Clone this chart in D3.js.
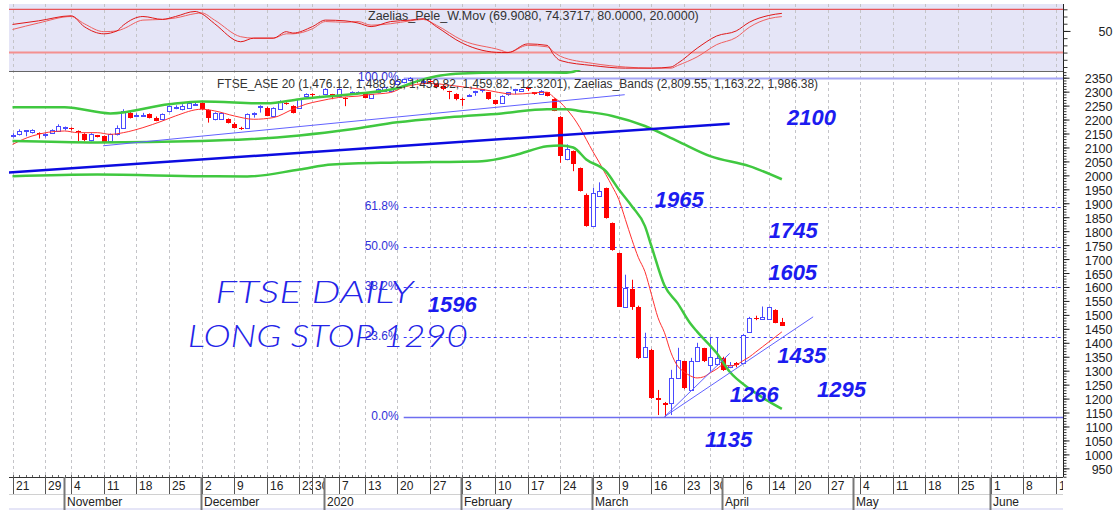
<!DOCTYPE html>
<html>
<head>
<meta charset="utf-8">
<title>FTSE ASE 20 daily</title>
<script src="https://cdn.jsdelivr.net/npm/d3@7"></script>
<style>
  body { margin: 0; background: #ffffff; }
  svg { display: block; font-family: "Liberation Sans", Arial, sans-serif; }
</style>
</head>
<body>
<div id="chart"></div>
<script>
// FTSE_ASE 20 daily candles, one entry per trading day, index 0 = 21 Oct 2019, last = 16 Apr 2020
var open = [2140,2147,2159,2154,2152,2147,2152,2159,2171,2171,
  2159,2149,2125,2143,2141,2123,2147,2171,2225,2212,
  2215,2219,2207,2201,2231,2240,2237,2243,2253,2261,
  2233,2201,2201,2201,2185,2171,2171,2220,2244,2243,
  2212,2237,2261,2249,2243,2285,2293,2282,2291,2291,
  2285,2279,2294,2294,2297,2279,2297,2302,2302,2327,
  2334,2341,2338,2334,2338,2327,2320,2302,2291,2273,
  2285,2298,2305,2297,2269,2261,2292,2305,2302,2315,
  2297,2293,2297,2273,2208,2057,2087,2027,1931,1818,
  1925,1955,1830,1722,1530,1593,1530,1350,1375,1201,
  1185,1183,1273,1333,1231,1333,1381,1321,1324,1346,
  1315,1327,1327,1440,1488,1486,1485,1518,1476];
var high = [2151,2165,2162,2165,2154,2151,2165,2183,2175,2172,
  2161,2151,2151,2145,2143,2150,2179,2237,2230,2222,
  2224,2222,2211,2222,2251,2251,2255,2265,2262,2262,
  2237,2226,2226,2204,2190,2174,2222,2226,2251,2246,
  2244,2269,2262,2251,2276,2294,2294,2286,2312,2292,
  2312,2280,2301,2301,2298,2292,2312,2318,2312,2341,
  2346,2352,2344,2338,2341,2330,2323,2303,2294,2279,
  2291,2303,2310,2298,2271,2287,2298,2310,2310,2316,
  2298,2305,2298,2276,2212,2111,2089,2028,1935,1956,
  1975,1956,1831,1723,1644,1626,1533,1436,1378,1231,
  1188,1303,1382,1335,1346,1400,1382,1418,1418,1350,
  1331,1331,1432,1493,1497,1530,1529,1520,1489];
var low = [2136,2143,2140,2150,2132,2136,2150,2158,2161,2161,
  2123,2122,2122,2136,2115,2122,2143,2168,2204,2208,
  2211,2204,2194,2197,2226,2237,2233,2240,2251,2233,
  2189,2197,2199,2186,2168,2163,2168,2207,2225,2212,
  2208,2235,2253,2222,2240,2283,2280,2279,2289,2273,
  2283,2248,2292,2292,2276,2276,2294,2301,2300,2323,
  2330,2337,2330,2327,2330,2312,2305,2273,2269,2249,
  2282,2285,2297,2271,2253,2258,2285,2291,2301,2302,
  2289,2291,2283,2230,2045,2054,2015,1942,1816,1816,
  1924,1845,1730,1529,1529,1518,1342,1349,1199,1141,
  1135,1141,1270,1234,1229,1331,1331,1297,1317,1299,
  1309,1312,1324,1439,1481,1482,1482,1470,1460];
var close = [2145,2159,2161,2161,2149,2150,2161,2177,2174,2167,
  2156,2125,2149,2138,2117,2147,2171,2231,2207,2215,
  2218,2207,2195,2219,2249,2246,2249,2261,2256,2237,
  2207,2225,2225,2189,2171,2165,2219,2225,2249,2213,
  2240,2267,2255,2225,2273,2293,2288,2285,2309,2287,
  2309,2274,2299,2299,2279,2291,2309,2315,2309,2338,
  2344,2348,2333,2337,2333,2315,2309,2298,2273,2269,
  2288,2302,2309,2273,2255,2285,2297,2309,2309,2310,
  2291,2302,2285,2231,2068,2093,2039,1943,1818,1938,
  1943,1848,1734,1530,1596,1530,1345,1386,1201,1195,
  1177,1273,1339,1237,1333,1386,1333,1350,1346,1303,
  1321,1321,1428,1488,1484,1493,1528,1471,1460];

// moving average (thin red), read at these day indexes
var maIdx = [0,3,8,10,13,15,17,20,23,25,29,31,34,37,40,43,45,47,50,53,55,58,60,62,64,67,72,77,82,83,
  84,85,86,87,88,89,90,91,92,93,94,95,96,97,98,99,100,101,102,103,104,105,106,107,108,109,110,111,112,113,114,115,116,117,118];
var maVal = [2111,2141,2159,2153,2153,2147,2153,2171,2195,2213,2237,2231,2213,2201,2207,2237,2255,2266,2279,2284,2290,2297,2316,2326,2330,2323,2308,2291,2298,2280,
  2262,2237,2208,2172,2129,2086,2046,2003,1960,1913,1842,1770,1705,1655,1573,1490,1436,1364,1317,1296,1281,1274,1278,1292,1306,1321,1317,1321,1335,1349,1367,1385,1403,1421,1439];

// Zaelias bands (green)
var upIdx = [0,8,15,24,29,39,44,52,59,62,65,68,72,80,85,87,90,95,100,105,110,118];
var upVal = [2244,2244,2222,2255,2265,2258,2273,2291,2312,2337,2355,2364,2368,2369,2368,2380,2450,2600,2720,2790,2820,2810];
var midIdx = [0,13,29,36,44,52,59,67,75,82,85,87,92,97,102,107,113,118];
var midVal = [2123,2118,2123,2129,2143,2165,2190,2208,2222,2237,2237,2231,2213,2177,2123,2069,2033,1986];
var lowIdx = [0,13,29,36,44,49,59,72,77,82,84,86,88,91,93,95,97,98,100,102,104,105,108,110,113,116,118];
var lowVal = [1997,2003,1997,1996,2021,2039,2046,2051,2072,2104,2107,2100,2057,2015,1949,1889,1818,1746,1605,1542,1468,1440,1363,1296,1236,1190,1163];

// trend lines [startIdx, startVal, endIdx, endVal]
var thickTrend = [-0.7, 2010, 110, 2185];
var thinTrends = [[13.9, 2106, 93.9, 2289], [100, 1135, 110, 1362], [100, 1135, 122.8, 1493]];

// fibonacci retracement 1135 -> 2350
var fibVal = [1135, 1422, 1599, 1743, 1886, 2350];
var fibLabel = ['0.0%', '23.6%', '38.2%', '50.0%', '61.8%', '100.0%'];
var fibStart = 60;

// Zaelias_Pele_W.Mov oscillator
var peleIdx = [0,4,9,11,14,16,17,20,23,25,28,29,31,35,37,40,42,43,46,48,51,53,55,58,61,63,65,69,75,76,79,82,83,84,89,94,98,101,102,105,108,111,113,116,118];
var peleA = [59,64,71,56,46,50,58,70,66,70,77,74,60,35,40,40,49,47,56,65,64,61,56,63,65,67,56,33,20,20,32,30,17,9,2,-1.6,-1.6,0,5,26,43,50,62,71.5,74.37];
var peleB = [52,61,70,60,49,50,53,65,66,68,74,75,65,42,40,40,46,46,53,63,62,63,58,60,64,66,58,37,23,20,30,28,21,15,5,0,-1.6,-1.6,2,14,31,41,55,67,69.91];
var peleLevels = [80, 20];

// hand annotations: text, day index, price level of baseline
var noteText = ['2100', '1965', '1745', '1605', '1596', '1435', '1295', '1266', '1135'];
var noteIdx = [118.8, 98.5, 116, 115.9, 63.7, 117.3, 123.4, 110, 106.2];
var noteVal = [2181, 1888, 1777, 1624, 1509, 1327, 1205, 1188, 1027];
var handText = ['FTSE DAILY', 'LONG STOP 1290'];
var handIdx = [31.1, 26.9];
var handVal = [1541, 1384];

// date axis
var dayLabels = ['21','29','4','11','18','25','2','9','16','23','30','7','13','20','27','3','10','17','24','3','9','16','23','30','6','14','20','27','4','11','18','25','1','8','15'];
var dayIndex = [0,5,9,14,19,24,29,34,39,44,46,50,54,59,64,69,74,79,84,89,93,98,103,107,112,116,120,125,130,135,140,145,150,155,160];
var monthLabels = ['November','December','2020','February','March','April','May','June'];
var monthIndex = [8,29,48,69,89,109,129,150];
var yTicks = d3.range(950, 2351, 50);

var width = 1115, height = 510;
var plotL = 9, plotR = 1063;
var topT = 4, topB = 71, mainB = 477;

var x = d3.scaleLinear().domain([0, 160]).range([12.5, 1055.7]);
var y = d3.scaleLinear().domain([919, 2374]).range([mainB, topB]);
var yi = d3.scaleLinear().domain([0, 80]).range([67, 9.3]);

var upCol = '#4a4aff', downCol = '#ff0000', green = '#40c840';

var svg = d3.select('#chart').append('svg')
  .attr('width', width)
  .attr('height', height);

var defs = svg.append('defs');
defs.append('clipPath').attr('id', 'clipMain').append('rect')
  .attr('x', plotL).attr('y', topB - 1).attr('width', plotR - plotL).attr('height', mainB - topB + 1);
defs.append('clipPath').attr('id', 'clipTop').append('rect')
  .attr('x', plotL).attr('y', topT).attr('width', plotR - plotL).attr('height', topB - topT);

// top panel background
svg.append('rect')
  .attr('x', plotL).attr('y', topT)
  .attr('width', plotR - plotL).attr('height', topB - topT)
  .attr('fill', '#e5e5f7');

// dashed vertical grid
svg.append('g').selectAll('line')
  .data(dayIndex.filter(d => x(d) < plotR))
  .enter().append('line')
  .attr('x1', d => Math.round(x(d)) + 0.5).attr('x2', d => Math.round(x(d)) + 0.5)
  .attr('y1', topT).attr('y2', mainB)
  .attr('stroke', '#c4c4c8').attr('stroke-dasharray', '3,3');

svg.append('line')
  .attr('x1', plotL).attr('x2', plotR).attr('y1', topB + 0.5).attr('y2', topB + 0.5)
  .attr('stroke', '#666');

// ---- top oscillator panel ----
var topG = svg.append('g').attr('clip-path', 'url(#clipTop)');
topG.selectAll('line.lvl').data(peleLevels).enter().append('line')
  .attr('x1', plotL).attr('x2', plotR)
  .attr('y1', d => yi(d)).attr('y2', d => yi(d))
  .attr('stroke', d => d === 80 ? '#e83030' : '#f49090')
  .attr('stroke-width', d => d === 80 ? 1 : 2);

var peleLine = d3.line().curve(d3.curveMonotoneX)
  .x(d => x(d[0])).y(d => yi(d[1]));
topG.append('path')
  .attr('d', peleLine(peleIdx.map((d, i) => [d, peleB[i]])))
  .attr('fill', 'none').attr('stroke', '#f06060').attr('stroke-width', 1);
topG.append('path')
  .attr('d', peleLine(peleIdx.map((d, i) => [d, peleA[i]])))
  .attr('fill', 'none').attr('stroke', '#e01818').attr('stroke-width', 1);

svg.append('text')
  .attr('x', 368).attr('y', 16).attr('dy', '0.35em')
  .attr('font-size', '12.5px').attr('fill', '#333')
  .text('Zaelias_Pele_W.Mov (69.9080, 74.3717, 80.0000, 20.0000)');

// ---- main panel ----
var main = svg.append('g').attr('clip-path', 'url(#clipMain)');

// fibonacci lines
var fibX = x(fibStart);
main.selectAll('line.fib').data(fibVal).enter().append('line')
  .attr('x1', fibX).attr('x2', plotR)
  .attr('y1', d => Math.round(y(d)) + 0.5).attr('y2', d => Math.round(y(d)) + 0.5)
  .attr('stroke', (d, i) => (fibLabel[i] === '0.0%') ? '#6e6ef0' : (fibLabel[i] === '100.0%' ? '#a4a4f4' : '#3a3aff'))
  .attr('stroke-width', (d, i) => (fibLabel[i] === '0.0%') ? 1.5 : (fibLabel[i] === '100.0%' ? 2 : 1))
  .attr('stroke-dasharray', (d, i) => (fibLabel[i] === '0.0%' || fibLabel[i] === '100.0%') ? null : '3,3');

// candles
var candles = open.map((o, i) => ({ i: i, o: o, h: high[i], l: low[i], c: close[i] }));
main.append('g').selectAll('line')
  .data(candles).enter().append('line')
  .attr('x1', d => Math.round(x(d.i)) + 0.5).attr('x2', d => Math.round(x(d.i)) + 0.5)
  .attr('y1', d => y(d.h)).attr('y2', d => y(d.l))
  .attr('stroke', d => d.c >= d.o ? upCol : downCol);
main.append('g').selectAll('rect')
  .data(candles).enter().append('rect')
  .attr('x', d => d.c >= d.o ? Math.round(x(d.i)) - 1.5 : Math.round(x(d.i)) - 2)
  .attr('width', d => d.c >= d.o ? 4 : 5)
  .attr('y', d => {
    var t = Math.round(y(Math.max(d.o, d.c)));
    return d.c >= d.o ? t + 0.5 : t;
  })
  .attr('height', d => Math.max(1, Math.round(y(Math.min(d.o, d.c))) - Math.round(y(Math.max(d.o, d.c)))))
  .attr('fill', d => d.c >= d.o ? '#ffffff' : downCol)
  .attr('stroke', d => d.c >= d.o ? upCol : 'none');

// moving average
var knotLine = d3.line().curve(d3.curveMonotoneX).x(d => x(d[0])).y(d => y(d[1]));
main.append('path')
  .attr('d', knotLine(maIdx.map((d, i) => [d, maVal[i]])))
  .attr('fill', 'none').attr('stroke', '#ff3030').attr('stroke-width', 1);

// bands
[[upIdx, upVal], [midIdx, midVal], [lowIdx, lowVal]].forEach(function(b) {
  main.append('path')
    .attr('d', knotLine(b[0].map((d, i) => [d, b[1][i]])))
    .attr('fill', 'none').attr('stroke', green).attr('stroke-width', 2.5);
});

// trend lines
main.append('line')
  .attr('x1', x(thickTrend[0])).attr('y1', y(thickTrend[1]))
  .attr('x2', x(thickTrend[2])).attr('y2', y(thickTrend[3]))
  .attr('stroke', '#0c0ce0').attr('stroke-width', 2.5);
main.selectAll('line.tl').data(thinTrends).enter().append('line')
  .attr('x1', d => x(d[0])).attr('y1', d => y(d[1]))
  .attr('x2', d => x(d[2])).attr('y2', d => y(d[3]))
  .attr('stroke', '#6262ff').attr('stroke-width', 1);

// fib labels
svg.append('g').selectAll('text').data(fibVal).enter().append('text')
  .attr('x', fibX - 5).attr('y', d => y(d) - 1).attr('dy', '0.35em')
  .attr('text-anchor', 'end').attr('font-size', '12px').attr('fill', '#3030d8')
  .text((d, i) => fibLabel[i]);

svg.append('text')
  .attr('x', 217).attr('y', 83.5).attr('dy', '0.35em')
  .attr('font-size', '12px').attr('fill', '#333')
  .text('FTSE_ASE 20 (1,476.12, 1,488.92, 1,459.82, 1,459.82, -12.3201), Zaelias_Bands (2,809.55, 1,163.22, 1,986.38)');

// hand written notes
svg.append('g').selectAll('text').data(handText).enter().append('text')
  .attr('x', (d, i) => x(handIdx[i])).attr('y', (d, i) => y(handVal[i]))
  .attr('font-family', 'Lato, "Open Sans", sans-serif')
  .attr('font-weight', 300).attr('font-style', 'italic')
  .attr('font-size', '31px').attr('fill', '#2424e8')
  .attr('textLength', (d, i) => i === 0 ? 198 : 280)
  .attr('lengthAdjust', 'spacingAndGlyphs')
  .text(d => d);

svg.append('g').selectAll('text').data(noteText).enter().append('text')
  .attr('x', (d, i) => x(noteIdx[i])).attr('y', (d, i) => y(noteVal[i]))
  .attr('font-size', '22px').attr('font-weight', 'bold').attr('font-style', 'italic')
  .attr('fill', '#1c1cf0')
  .text(d => d);

// ---- right axes ----
svg.append('line')
  .attr('x1', plotR + 0.5).attr('x2', plotR + 0.5).attr('y1', topT).attr('y2', mainB)
  .attr('stroke', '#222');

var minor = svg.append('g').attr('transform', 'translate(' + (plotR + 0.5) + ',0)')
  .call(d3.axisRight(y).tickValues(d3.range(920, 2371, 10)).tickSize(3).tickFormat(''));
minor.select('.domain').remove();
minor.selectAll('line').attr('stroke', '#333');

var yAxis = svg.append('g').attr('transform', 'translate(' + (plotR + 0.5) + ',0)')
  .call(d3.axisRight(y).tickValues(yTicks).tickSize(6).tickFormat(d3.format('d')));
yAxis.select('.domain').remove();
yAxis.selectAll('line').attr('stroke', '#222');
yAxis.selectAll('text')
  .attr('x', 49).attr('dy', '0.4em').attr('text-anchor', 'end')
  .attr('font-size', '12.5px').attr('font-family', '"Liberation Sans", Arial, sans-serif').attr('fill', '#222');

var topAxis = svg.append('g').attr('transform', 'translate(' + (plotR + 0.5) + ',0)')
  .call(d3.axisRight(yi).tickValues(d3.range(0, 81, 10)).tickSize(4).tickFormat(''));
topAxis.select('.domain').remove();
topAxis.selectAll('line').attr('stroke', '#333');
var topMajor = svg.append('g').attr('transform', 'translate(' + (plotR + 0.5) + ',0)')
  .call(d3.axisRight(yi).tickValues([50]).tickSize(7));
topMajor.select('.domain').remove();
topMajor.selectAll('line').attr('stroke', '#222');
topMajor.selectAll('text')
  .attr('x', 49).attr('dy', '0.35em').attr('text-anchor', 'end')
  .attr('font-size', '12.5px').attr('font-family', '"Liberation Sans", Arial, sans-serif').attr('fill', '#222');

// ---- date axis ----
var dateG = svg.append('g');
dateG.append('line')
  .attr('x1', plotL).attr('x2', plotR).attr('y1', mainB + 0.5).attr('y2', mainB + 0.5)
  .attr('stroke', '#333');
dateG.selectAll('line.dt').data(d3.range(0, 161)).enter().append('line')
  .attr('x1', d => Math.round(x(d)) + 0.5).attr('x2', d => Math.round(x(d)) + 0.5)
  .attr('y1', mainB - 2).attr('y2', mainB)
  .attr('stroke', '#666');
dateG.append('line')
  .attr('x1', plotL).attr('x2', plotR).attr('y1', 494.5).attr('y2', 494.5)
  .attr('stroke', '#d0d0d0');
dateG.append('rect')
  .attr('x', plotL).attr('y', 508).attr('width', plotR - plotL).attr('height', 2)
  .attr('fill', '#e5e5f7');

var bounds = dayIndex.concat(monthIndex).sort((a, b) => a - b);
dayIndex.forEach(function(d, k) {
  var nxt = bounds.find(b => b > d);
  var x0 = Math.round(x(d));
  var x1 = nxt === undefined ? plotR : Math.min(plotR, Math.round(x(nxt)));
  defs.append('clipPath').attr('id', 'dc' + k).append('rect')
    .attr('x', x0).attr('y', mainB).attr('width', x1 - x0).attr('height', 18);
  dateG.append('line')
    .attr('x1', x0 + 0.5).attr('x2', x0 + 0.5).attr('y1', mainB).attr('y2', 494)
    .attr('stroke', '#555');
  dateG.append('text')
    .attr('clip-path', 'url(#dc' + k + ')')
    .attr('x', x0 + 3).attr('y', 490)
    .attr('font-size', '12px').attr('fill', '#222')
    .text(dayLabels[k]);
});
dateG.selectAll('line.mo').data(monthIndex).enter().append('line')
  .attr('x1', d => Math.round(x(d)) - 0.5).attr('x2', d => Math.round(x(d)) - 0.5)
  .attr('y1', mainB).attr('y2', height)
  .attr('stroke', '#777').attr('stroke-width', 2);
dateG.selectAll('text.mo').data(monthIndex).enter().append('text')
  .attr('x', d => Math.round(x(d)) + 2).attr('y', 506)
  .attr('font-size', '12px').attr('fill', '#222')
  .text((d, i) => monthLabels[i]);
</script>
</body>
</html>
